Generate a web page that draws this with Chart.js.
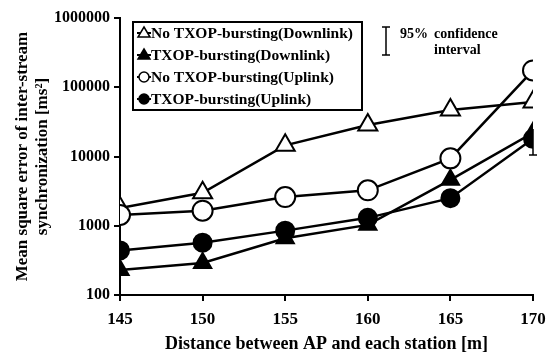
<!DOCTYPE html>
<html>
<head>
<meta charset="utf-8">
<script src="https://cdn.jsdelivr.net/npm/chart.js@4.4.0/dist/chart.umd.min.js"></script>
<style>
  body { margin: 0; background: #fff; }
  #wrap { width: 548px; height: 355px; position: relative; }
</style>
</head>
<body>
<div id="wrap"><canvas id="chart"></canvas></div>
<script>
// distances (m)
var distances = [145, 150, 155, 160, 165, 170];

// mean square error [ms^2]
var noTxopDown = [1800, 3000, 14500, 28500, 47000, 61000];
var txopDown = [230, 290, 660, 1030, 4600, 22000];
var noTxopUp = [1430, 1650, 2600, 3250, 9400, 175000];
var txopUp = [440, 570, 850, 1300, 2500, 18000];

// 95% confidence interval (only visible one, TXOP uplink at 170 m)
var txopUpCiLow = [null, null, null, null, null, 10500];
var txopUpCiHigh = [null, null, null, null, null, 25000];

var yTicks = [100, 1000, 10000, 100000, 1000000];

var legendLabels = [
  "No TXOP-bursting(Downlink)",
  "TXOP-bursting(Downlink)",
  "No TXOP-bursting(Uplink)",
  "TXOP-bursting(Uplink)"
];

var serif = "'Liberation Serif', 'Times New Roman', serif";
Chart.defaults.font.family = serif;
Chart.defaults.font.weight = "bold";
Chart.defaults.color = "#000";

function toPoints(vals) {
  return vals.map(function (v, i) { return { x: distances[i], y: v }; });
}

function series(label, vals, style, filled, r, order) {
  return {
    label: label,
    data: toPoints(vals),
    borderColor: "#000",
    borderWidth: 2.5,
    pointStyle: style,
    pointRadius: r,
    pointHoverRadius: r,
    pointBorderWidth: 2,
    pointBorderColor: "#000",
    pointBackgroundColor: filled ? "#000" : "#fff",
    backgroundColor: filled ? "#000" : "#fff",
    order: order,
    _filled: filled
  };
}

var datasets = [
  series(legendLabels[0], noTxopDown, "triangle", false, 11, 3),
  series(legendLabels[1], txopDown, "triangle", true, 10, 2),
  series(legendLabels[2], noTxopUp, "circle", false, 10, 0),
  series(legendLabels[3], txopUp, "circle", true, 9, 1)
];

// error bars + boxed legend + confidence note
var extras = {
  id: "extras",
  afterDatasetsDraw: function (chart) {
    var ctx = chart.ctx;
    var xs = chart.scales.x, ys = chart.scales.y;
    ctx.save();
    ctx.strokeStyle = "#000";
    ctx.lineWidth = 1.5;
    for (var i = 0; i < distances.length; i++) {
      if (txopUpCiLow[i] == null) continue;
      var px = xs.getPixelForValue(distances[i]);
      var lo = ys.getPixelForValue(txopUpCiLow[i]);
      var hi = ys.getPixelForValue(txopUpCiHigh[i]);
      ctx.beginPath();
      ctx.moveTo(px, lo); ctx.lineTo(px, hi);
      ctx.moveTo(px - 4, lo); ctx.lineTo(px + 4, lo);
      ctx.stroke();
    }
    ctx.restore();
  },
  afterDraw: function (chart) {
    var ctx = chart.ctx;
    ctx.save();
    // legend box
    var bx = 133, by = 22, bw = 229, bh = 88;
    ctx.fillStyle = "#fff";
    ctx.fillRect(bx, by, bw, bh);
    ctx.strokeStyle = "#000";
    ctx.lineWidth = 2;
    ctx.strokeRect(bx, by, bw, bh);
    ctx.font = "bold 15.5px " + serif;
    ctx.textBaseline = "middle";
    ctx.textAlign = "left";
    chart.data.datasets.forEach(function (ds, i) {
      var cy = by + 11 + i * 22;
      ctx.strokeStyle = "#000";
      ctx.lineWidth = 2;
      ctx.beginPath();
      ctx.moveTo(bx + 4, cy); ctx.lineTo(bx + 18, cy);
      ctx.stroke();
      ctx.fillStyle = ds._filled ? "#000" : "#fff";
      ctx.lineWidth = 1.5;
      ctx.beginPath();
      if (ds.pointStyle === "circle") {
        ctx.arc(bx + 11, cy, 5, 0, Math.PI * 2);
      } else {
        ctx.moveTo(bx + 11, cy - 6);
        ctx.lineTo(bx + 17, cy + 4);
        ctx.lineTo(bx + 5, cy + 4);
        ctx.closePath();
      }
      ctx.fill();
      ctx.stroke();
      ctx.fillStyle = "#000";
      ctx.fillText(ds.label, bx + 18, cy + 1);
    });
    // confidence interval note
    ctx.lineWidth = 1.5;
    ctx.beginPath();
    ctx.moveTo(386, 27); ctx.lineTo(386, 55);
    ctx.moveTo(382, 27); ctx.lineTo(390, 27);
    ctx.moveTo(382, 55); ctx.lineTo(390, 55);
    ctx.stroke();
    ctx.font = "bold 14px " + serif;
    ctx.fillText("95%", 400, 34);
    ctx.fillText("confidence", 434, 34);
    ctx.fillText("interval", 434, 50);
    ctx.restore();
  }
};

new Chart(document.getElementById("chart"), {
  type: "line",
  data: { datasets: datasets },
  options: {
    responsive: true,
    maintainAspectRatio: false,
    animation: false,
    layout: { padding: { top: 18, right: 15, left: 0, bottom: 0 } },
    plugins: { legend: { display: false }, tooltip: { enabled: false } },
    scales: {
      x: {
        type: "linear",
        min: 145,
        max: 170,
        afterFit: function (s) { s.height = 60; s.paddingRight = 0; s.paddingLeft = 0; },
        ticks: { stepSize: 5, font: { size: 17, weight: "bold" }, padding: 8 },
        grid: { drawOnChartArea: false, drawTicks: true, tickLength: 6, color: "#000", lineWidth: 2 },
        border: { color: "#000", width: 2 },
        title: {
          display: true,
          text: "Distance between AP and each station [m]",
          font: { size: 18, weight: "bold" },
          padding: { top: 0, bottom: 0 }
        }
      },
      y: {
        type: "logarithmic",
        min: 100,
        max: 1000000,
        afterFit: function (s) { s.width = 120; },
        afterBuildTicks: function (s) {
          s.ticks = yTicks.map(function (v) { return { value: v }; });
        },
        ticks: {
          font: { size: 16, weight: "bold" },
          padding: 4,
          callback: function (v) { return String(v); }
        },
        grid: { drawOnChartArea: false, drawTicks: true, tickLength: 6, color: "#000", lineWidth: 2 },
        border: { color: "#000", width: 2 },
        title: {
          display: true,
          text: ["Mean square error of inter-stream", "synchronization [ms\u00b2]"],
          font: { size: 17, weight: "bold" },
          padding: { top: 12, bottom: 0 }
        }
      }
    }
  },
  plugins: [extras]
});
</script>
</body>
</html>
